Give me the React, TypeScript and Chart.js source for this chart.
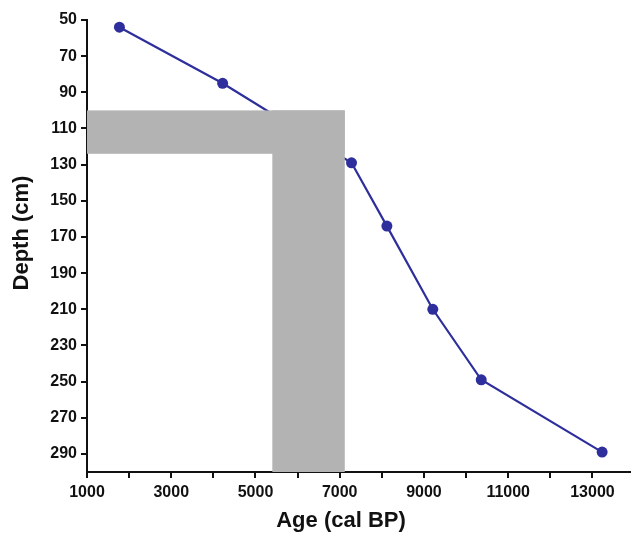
import React, { useEffect, useRef } from "react";
import { Chart, registerables } from "chart.js";

Chart.register(...registerables);

const ages = [1770, 4220, 7280, 8120, 9210, 10360, 13230];
const depths = [54, 85, 129, 164, 210, 249, 289];

const xTickValues = [1000, 2000, 3000, 4000, 5000, 6000, 7000, 8000, 9000, 10000, 11000, 12000, 13000];
const xLabelValues = [1000, 3000, 5000, 7000, 9000, 11000, 13000];
const yTickValues = [50, 70, 90, 110, 130, 150, 170, 190, 210, 230, 250, 270, 290];

// shaded bands: [ageFrom, ageTo, depthFrom, depthTo]
const bandAgeFrom = [1000, 5400];
const bandAgeTo = [7120, 7120];
const bandDepthFrom = [100, 100];
const bandDepthTo = [124, 300];

const xTitle = "Age (cal BP)";
const yTitle = "Depth (cm)";

const FONT = "'Liberation Sans', Arial, sans-serif";
const LINE_COLOR = "#2e2f9c";

const bandsPlugin = {
  id: "bands",
  afterDatasetsDraw(chart: any) {
    const { ctx, scales } = chart;
    const x = scales.x;
    const y = scales.y;
    ctx.save();
    ctx.fillStyle = "#b3b3b3";
    for (let i = 0; i < bandAgeFrom.length; i++) {
      const x0 = x.getPixelForValue(bandAgeFrom[i]);
      const x1 = x.getPixelForValue(bandAgeTo[i]);
      const y0 = y.getPixelForValue(bandDepthFrom[i]);
      const y1 = y.getPixelForValue(bandDepthTo[i]);
      ctx.fillRect(x0, y0, x1 - x0, y1 - y0);
    }
    ctx.restore();
  },
};

const titlesPlugin = {
  id: "titles",
  afterDraw(chart: any) {
    const { ctx, chartArea } = chart;
    ctx.save();
    ctx.fillStyle = "#111";
    ctx.font = `bold 22px ${FONT}`;
    ctx.textAlign = "center";
    ctx.textBaseline = "middle";
    ctx.fillText(xTitle, 341, 521);
    ctx.translate(22, 233);
    ctx.rotate(-Math.PI / 2);
    ctx.fillText(yTitle, 0, 0);
    ctx.restore();
  },
};

export default function App() {
  const ref = useRef<HTMLCanvasElement>(null);
  useEffect(() => {
    if (!ref.current) return;
    const chart = new Chart(ref.current, {
      type: "line",
      data: {
        datasets: [
          {
            data: ages.map((a, i) => ({ x: a, y: depths[i] })),
            borderColor: LINE_COLOR,
            backgroundColor: LINE_COLOR,
            borderWidth: 2.2,
            pointRadius: 5.5,
            pointHoverRadius: 5.5,
            pointBorderWidth: 0,
            tension: 0,
          },
        ],
      },
      options: {
        responsive: false,
        animation: false,
        layout: { padding: { top: 20, right: 0, left: 0, bottom: 0 } },
        plugins: { legend: { display: false }, tooltip: { enabled: false }, title: { display: false } },
        scales: {
          x: {
            type: "linear",
            min: 1000,
            max: 13880,
            afterBuildTicks: (s: any) => {
              s.ticks = xTickValues.map((v) => ({ value: v }));
            },
            afterFit: (s: any) => {
              s.height = 64;
            },
            grid: { drawOnChartArea: false, drawTicks: true, tickLength: 6, color: "#111", lineWidth: 2 },
            border: { display: true, color: "#111", width: 2 },
            ticks: {
              color: "#111",
              font: { family: FONT, size: 16, weight: "bold" },
              padding: 5,
              maxRotation: 0,
              autoSkip: false,
              callback: (v: any) => (xLabelValues.includes(Number(v)) ? String(v) : ""),
            },
          },
          y: {
            type: "linear",
            reverse: true,
            min: 50,
            max: 300,
            afterBuildTicks: (s: any) => {
              s.ticks = yTickValues.map((v) => ({ value: v }));
            },
            afterFit: (s: any) => {
              s.width = 87;
            },
            grid: { drawOnChartArea: false, drawTicks: true, tickLength: 6, color: "#111", lineWidth: 2 },
            border: { display: true, color: "#111", width: 2 },
            ticks: {
              color: "#111",
              font: { family: FONT, size: 16, weight: "bold" },
              padding: 4,
              autoSkip: false,
              callback: (v: any) => String(v),
            },
          },
        },
      },
      plugins: [bandsPlugin, titlesPlugin],
    });
    return () => chart.destroy();
  }, []);
  return (
    <div style={{ position: "absolute", left: 0, top: 0, width: 635, height: 536, background: "#fff" }}>
      <canvas ref={ref} width={635} height={536} />
    </div>
  );
}
